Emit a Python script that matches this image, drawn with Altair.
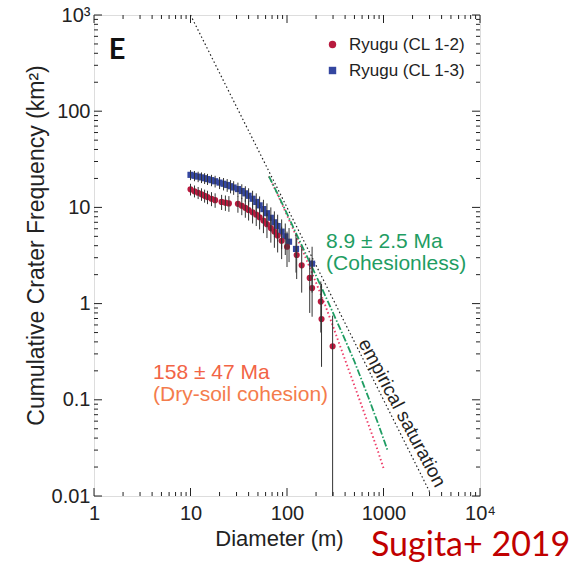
import altair as alt
import pandas as pd

FONT = "Liberation Sans"
S12 = "Ryugu (CL 1-2)"
S13 = "Ryugu (CL 1-3)"

# ---- Ryugu CL 1-2 (red circles) ----
cl12_D = [10, 11, 12, 13, 14, 15, 16.5, 18, 21, 23, 25, 31, 34, 37, 40, 44, 48, 52, 57, 62,
          68, 74, 80, 88, 100, 126, 142, 172, 182, 224, 228, 297]
cl12_N = [15.4, 14.7, 14.2, 13.7, 13.2, 12.8, 12.3, 11.9, 11.4, 11.2, 11.0, 10.9, 10.4, 9.9, 9.4,
          8.9, 8.4, 7.9, 7.3, 6.7, 6.1, 5.6, 5.1, 4.5, 3.9, 3.2, 2.5, 1.85, 1.45, 1.05, 0.69, 0.36]
cl12_lo = [13.3, 12.7, 12.2, 11.7, 11.2, 10.8, 10.3, 9.9, 9.4, 9.2, 9.0, 8.8, 8.3, 7.8, 7.3,
           6.8, 6.4, 5.9, 5.4, 4.8, 4.3, 3.8, 3.4, 2.9, 2.4, 1.8, 1.3, 0.8, 0.73, 0.5, 0.22, 0.01]
cl12_hi = [17.6, 16.9, 16.3, 15.8, 15.3, 14.9, 14.4, 14.0, 13.5, 13.3, 13.1, 13.1, 12.6, 12.1, 11.6,
           11.1, 10.6, 10.1, 9.4, 8.7, 8.0, 7.5, 7.0, 6.3, 5.6, 4.8, 3.9, 3.0, 2.85, 1.7, 1.6, 0.75]

# ---- Ryugu CL 1-3 (blue squares) ----
cl13_D = [10, 11, 12, 13, 14, 15, 16.5, 18, 20, 22, 24, 26, 28, 31, 34, 37, 40, 44, 48, 52,
          57, 62, 68, 74, 80, 88, 96, 105, 124, 182]
cl13_N = [21.8, 21.3, 20.9, 20.5, 20.1, 19.7, 19.2, 18.7, 18.1, 17.6, 17.1, 16.6, 16.1, 15.5, 14.8,
          14.0, 13.2, 12.3, 11.4, 10.5, 9.6, 8.7, 7.8, 7.0, 6.4, 5.6, 5.0, 4.4, 3.7, 2.6]
cl13_lo = [19.2, 18.7, 18.3, 17.9, 17.5, 17.1, 16.6, 16.1, 15.5, 15.0, 14.5, 14.0, 13.5, 12.9, 12.2,
           11.4, 10.6, 9.7, 8.9, 8.0, 7.2, 6.4, 5.6, 4.9, 4.4, 3.7, 3.2, 2.7, 2.1, 1.3]
cl13_hi = [24.4, 23.9, 23.5, 23.1, 22.7, 22.3, 21.8, 21.3, 20.7, 20.2, 19.7, 19.2, 18.7, 18.1, 17.4,
           16.6, 15.8, 14.9, 14.0, 13.0, 12.0, 11.0, 10.0, 9.1, 8.4, 7.5, 6.8, 6.1, 5.3, 3.9]

# ---- model / reference curves ----
sat_D = [10, 3000]
sat_N = [1000, 0.0111]
cohless_D = [65, 80, 100, 125, 150, 200, 250, 300, 400, 500, 700, 900, 1100]
cohless_N = [21, 13.8, 8.6, 5.3, 3.6, 1.95, 1.2, 0.8, 0.42, 0.25, 0.105, 0.053, 0.03]
drysoil_D = [65, 80, 100, 125, 150, 200, 250, 300, 400, 500, 700, 850, 1000]
drysoil_N = [21, 13.6, 8.3, 5.0, 3.3, 1.65, 0.95, 0.58, 0.26, 0.14, 0.055, 0.032, 0.0195]

# ---- axis ticks ----
x_major = [1, 10, 100, 1000, 10000]
y_major = [0.01, 0.1, 1, 10, 100, 1000]
mult = [2, 3, 4, 5, 6, 7, 8, 9]
x_minor = [m * d for d in [1, 10, 100, 1000] for m in mult]
y_minor = [round(m * d, 4) for d in [0.01, 0.1, 1, 10, 100] for m in mult]

RED = "#b81a3e"
BLUE = "#3446a0"
GREEN = "#1f9d63"
PINK = "#ee3f6a"
INK = "#222222"
W, H = 386, 481

xscale = alt.Scale(type="log", domain=[1, 10000], nice=False)
yscale = alt.Scale(type="log", domain=[0.01, 1000], nice=False)

xaxis = alt.Axis(values=x_major, format="~g",
                 labelExpr="datum.value == 10000 ? '10⁴' : datum.label",
                 ticks=False, tickSize=0, domain=False, grid=False,
                 labelFont=FONT, labelFontSize=20, labelColor=INK, labelPadding=7,
                 labelFlush=False, labelOverlap=False,
                 titleFont=FONT, titleFontSize=22, titleFontWeight="normal", titleColor=INK,
                 titleX=185, titleY=49, titleBaseline="alphabetic")
yaxis = alt.Axis(values=y_major, format="~g",
                 labelExpr="datum.value == 1000 ? '10³' : datum.label",
                 ticks=False, tickSize=0, domain=False, grid=False,
                 labelFont=FONT, labelFontSize=20, labelColor=INK, labelPadding=4,
                 labelFlush=False, labelOverlap=False,
                 titleFont=FONT, titleFontSize=23, titleFontWeight="normal", titleColor=INK,
                 titleX=-58, titleY=230, titleAngle=270, titleAlign="center",
                 titleBaseline="middle")

XT = "Diameter (m)"
YT = "Cumulative Crater Frequency (km²)"


def X(f):
    return alt.X(f"{f}:Q", scale=xscale, axis=xaxis, title=XT)


def Y(f):
    return alt.Y(f"{f}:Q", scale=yscale, axis=yaxis, title=YT)


pts = pd.DataFrame({
    "D": cl13_D + cl12_D,
    "N": cl13_N + cl12_N,
    "lo": cl13_lo + cl12_lo,
    "hi": cl13_hi + cl12_hi,
    "series": [S13] * len(cl13_D) + [S12] * len(cl12_D),
})

sat = pd.DataFrame({"D": sat_D, "N": sat_N})
coh = pd.DataFrame({"D": cohless_D, "N": cohless_N})
dry = pd.DataFrame({"D": drysoil_D, "N": drysoil_N})

sat_line = alt.Chart(sat).mark_line(color=INK, strokeWidth=1.2, strokeDash=[1.5, 2.5]).encode(
    x=X("D"), y=Y("N"))
coh_line = alt.Chart(coh).mark_line(color=GREEN, strokeWidth=1.8, strokeDash=[7, 2, 1.5, 2]).encode(
    x=X("D"), y=Y("N"))
dry_line = alt.Chart(dry).mark_line(color=PINK, strokeWidth=1.9, strokeDash=[1.5, 2.5]).encode(
    x=X("D"), y=Y("N"))

legend = alt.Legend(title=None, orient="none", legendX=230, legendY=21, padding=0,
                    labelFont=FONT, labelFontSize=17, labelColor=INK, labelOffset=8,
                    symbolSize=55, rowPadding=8, symbolStrokeWidth=0)

points = alt.Chart(pts).mark_point(filled=True, opacity=1, size=38).encode(
    x=X("D"), y=Y("N"),
    color=alt.Color("series:N", scale=alt.Scale(domain=[S12, S13], range=[RED, BLUE]), legend=legend),
    shape=alt.Shape("series:N", scale=alt.Scale(domain=[S12, S13], range=["circle", "square"]),
                    legend=legend),
)
bars = alt.Chart(pts).mark_rule(color="#333333", strokeWidth=1).encode(
    x=X("D"), y=Y("lo"), y2="hi")

xmaj = pd.DataFrame({"D": x_major})
xmin = pd.DataFrame({"D": x_minor})
ymaj = pd.DataFrame({"N": y_major})
ymin = pd.DataFrame({"N": y_minor})

tick_layers = []
for df, L in [(xmaj, 8), (xmin, 4)]:
    tick_layers.append(alt.Chart(df).mark_rule(color=INK, strokeWidth=1).encode(
        x=X("D"), y=alt.value(H), y2=alt.value(H - L)))
    tick_layers.append(alt.Chart(df).mark_rule(color=INK, strokeWidth=1).encode(
        x=X("D"), y=alt.value(0), y2=alt.value(L)))
for df, L in [(ymaj, 8), (ymin, 4)]:
    tick_layers.append(alt.Chart(df).mark_rule(color=INK, strokeWidth=1).encode(
        y=Y("N"), x=alt.value(0), x2=alt.value(L)))
    tick_layers.append(alt.Chart(df).mark_rule(color=INK, strokeWidth=1).encode(
        y=Y("N"), x=alt.value(W), x2=alt.value(W - L)))

ann = pd.DataFrame({
    "D": [254, 254, 4.09, 4.09],
    "N": [4.37, 2.58, 0.19, 0.112],
    "t": ["8.9 ± 2.5 Ma", "(Cohesionless)", "158 ± 47 Ma", "(Dry-soil cohesion)"],
    "c": [GREEN, GREEN, "#f26446", "#f47c4c"],
})
ann_text = alt.Chart(ann).mark_text(align="left", baseline="middle", font=FONT, fontSize=21).encode(
    x=X("D"), y=Y("N"), text="t:N", color=alt.Color("c:N", scale=None))

sat_lab = pd.DataFrame({"D": [1556], "N": [0.073], "t": ["empirical saturation"]})
sat_text = alt.Chart(sat_lab).mark_text(align="center", baseline="middle", angle=62, font=FONT,
                                        fontSize=19, color=INK).encode(
    x=X("D"), y=Y("N"), text="t:N")

panel = alt.Chart(pd.DataFrame({"t": ["E"]})).mark_text(
    font="Lato", fontWeight="bold", fontSize=29, color="#111", align="center", baseline="middle").encode(
    x=alt.value(23), y=alt.value(35), text="t:N")

cite = alt.Chart(pd.DataFrame({"t": ["Sugita+ 2019"]})).mark_text(
    font="Lato", fontSize=34, color="#c00000", align="left", baseline="alphabetic").encode(
    x=alt.value(277), y=alt.value(541), text="t:N")

chart = alt.layer(
    sat_line, dry_line, coh_line, points, bars, *tick_layers, ann_text, sat_text, panel, cite
).properties(
    width=W, height=H,
    padding={"left": 94, "top": 15, "right": 95, "bottom": 67},
    autosize=alt.AutoSizeParams(type="none"),
).configure_view(stroke=INK, strokeWidth=1).configure(background="white")

chart.save("out.html", embed_options={"renderer": "svg", "actions": False})
